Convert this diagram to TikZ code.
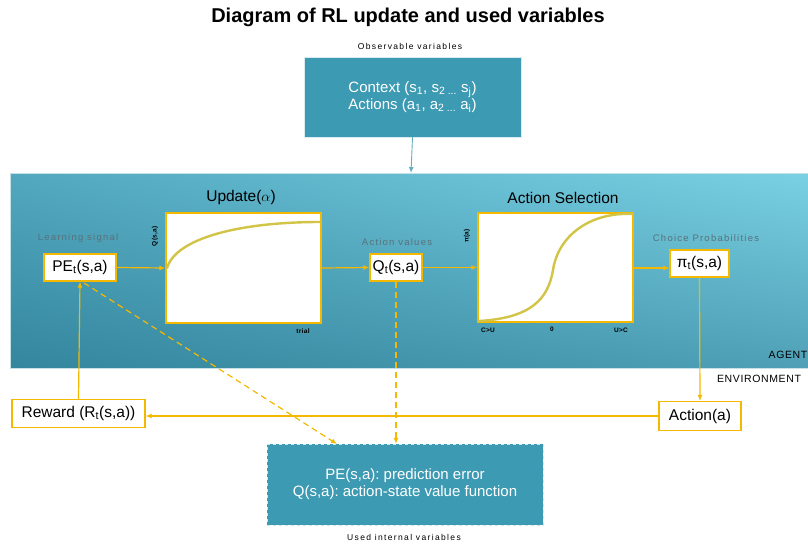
\documentclass[tikz,border=0pt]{standalone}
\usepackage{fontspec}
\setmainfont{Liberation Sans}
\usetikzlibrary{arrows.meta,shadings}
\definecolor{teal}{HTML}{3D9AB3}
\definecolor{gold}{HTML}{F4B800}
\definecolor{curve}{HTML}{D2C446}
\definecolor{lbl}{HTML}{5A717B}
\definecolor{ulc}{HTML}{52A8BF}
\definecolor{urc}{HTML}{7AD1E3}
\definecolor{llc}{HTML}{33869D}
\definecolor{lrc}{HTML}{4FA0B6}
\tikzset{
  varbox/.style={draw=gold, line width=1.1pt, fill=white, inner sep=3pt, font=\fontsize{15.5}{17}\selectfont},
  flow/.style={draw=gold, line width=1.2pt, -{Latex[length=6pt,width=5pt]}},
  dflow/.style={flow, dashed, dash pattern=on 6pt off 4pt},
  plot/.style={draw=gold, line width=1.2pt, fill=white},
  grey/.style={text=lbl, font=\fontsize{9.5}{10}\selectfont\addfontfeatures{LetterSpace=13}},
  tiny/.style={font=\fontsize{6.5}{7}\selectfont\bfseries\addfontfeatures{LetterSpace=5}},
  head/.style={font=\fontsize{15.5}{17}\selectfont},
  small/.style={font=\fontsize{8.5}{10}\selectfont\addfontfeatures{LetterSpace=16}},
  bluebox/.style={fill=teal, text=white, font=\fontsize{15}{17}\selectfont, align=center},
}
\begin{document}
\frenchspacing
\begin{tikzpicture}[x=1pt,y=-1pt]
\useasboundingbox (0,0) rectangle (808,546);
% title
\node[font=\fontsize{20}{22}\selectfont\bfseries] (title) at (408,17) {Diagram of RL update and used variables};
\node[small] (obs) at (410,46) {Observable variables};
% top box
\node[bluebox, draw=white!80!teal, minimum width=217pt, minimum height=80pt] (ctx) at (412.5,97)
  {Context (s\textsubscript{1}, s\textsubscript{2 ...} s\textsubscript{j})\\Actions (a\textsubscript{1}, a\textsubscript{2 ...} a\textsubscript{i})};
% agent panel
\shade[upper left=ulc, upper right=urc, lower left=llc, lower right=lrc] (10,173) rectangle (808,368);
\draw[white!70!teal, line width=0.6pt] (808,173) -- (10,173) -- (10,368) -- (808,368);
\coordinate (agtop) at (411,173);
\draw[draw=teal!80!white, line width=0.9pt, -{Latex[length=6pt,width=5pt]}] (ctx.south) -- (agtop);
% labels
\node[grey] (ls) at (78,238) {Learning signal};
\node[grey] (av) at (397,242) {Action values};
\node[grey] (cp) at (706,238) {Choice Probabilities};
\node[head] (upd) at (241,197) {Update($\alpha$)};
\node[head] (asel) at (563,198) {Action Selection};
% variable boxes
\node[varbox, minimum width=72pt, minimum height=27pt] (pe) at (80,267.5) {PE\textsubscript{t}(s,a)};
\node[varbox, minimum width=52pt, minimum height=27pt, inner sep=1pt] (q) at (396,267.5) {Q\textsubscript{t}(s,a)};
\node[varbox, minimum width=59pt, minimum height=27pt, inner sep=1pt] (pi) at (699.5,263.5) {π\textsubscript{t}(s,a)};
% plots
\node[plot, minimum width=155pt, minimum height=110pt, inner sep=0pt] (p1) at (243.5,268) {};
\node[plot, minimum width=155pt, minimum height=109pt, inner sep=0pt] (p2) at (555.5,267.5) {};
\draw[curve, line width=2.4pt, line cap=round] (167,268) .. controls (176,238) and (240,222) .. (320,222);
\draw[curve, line width=2.4pt, line cap=round] (479,321) .. controls (530,318) and (548,300) .. (553,270)
  .. controls (558,236) and (590,212) .. (632,214);
\node[tiny, rotate=90] (qlab) at (155,236) {Q(s,a)};
\node[tiny] (trial) at (303,331) {trial};
\node[tiny, rotate=90] (pilab) at (467,236) {π(a)};
\node[tiny] (cu) at (488,330) {C>U};
\node[tiny] (zero) at (552,329) {0};
\node[tiny] (uc) at (621,330) {U>C};
\node[font=\fontsize{10.5}{12}\selectfont\addfontfeatures{LetterSpace=6}] (agent) at (788,355) {AGENT};
\node[font=\fontsize{10.5}{12}\selectfont\addfontfeatures{LetterSpace=6}] (env) at (759,379) {ENVIRONMENT};
% environment boxes
\node[varbox, minimum width=133pt, minimum height=28pt] (rew) at (78.5,413.5) {Reward (R\textsubscript{t}(s,a))};
\node[varbox, minimum width=82pt, minimum height=29pt] (act) at (700,416) {Action(a)};
% bottom box
\node[bluebox, draw=white!75!teal, dashed, minimum width=276pt, minimum height=81pt] (used) at (405,484.5)
  {PE(s,a): prediction error\\Q(s,a): action-state value function};
\node[small] (uiv) at (404,537) {Used internal variables};
% connectors
\draw[flow] (pe.east) -- (p1.west);
\draw[flow] (p1.east) -- (q.west);
\draw[flow] (q.east) -- (p2.west |- q.east);
\coordinate (pistart) at (634,268);
\draw[flow] (pistart) -- (pi.west |- pistart);
\draw[flow] (pi.south) -- (act.north);
\draw[flow] (act.west) -- (rew.east |- act.west);
\draw[flow] (rew.north) -- (pe.south);
\coordinate (pes) at (84,283);
\coordinate (usedtl) at (337,444);
\draw[dflow] (pes) -- (usedtl);
\draw[dflow] (q.south) -- (q.south |- used.north);
\end{tikzpicture}
\end{document}
